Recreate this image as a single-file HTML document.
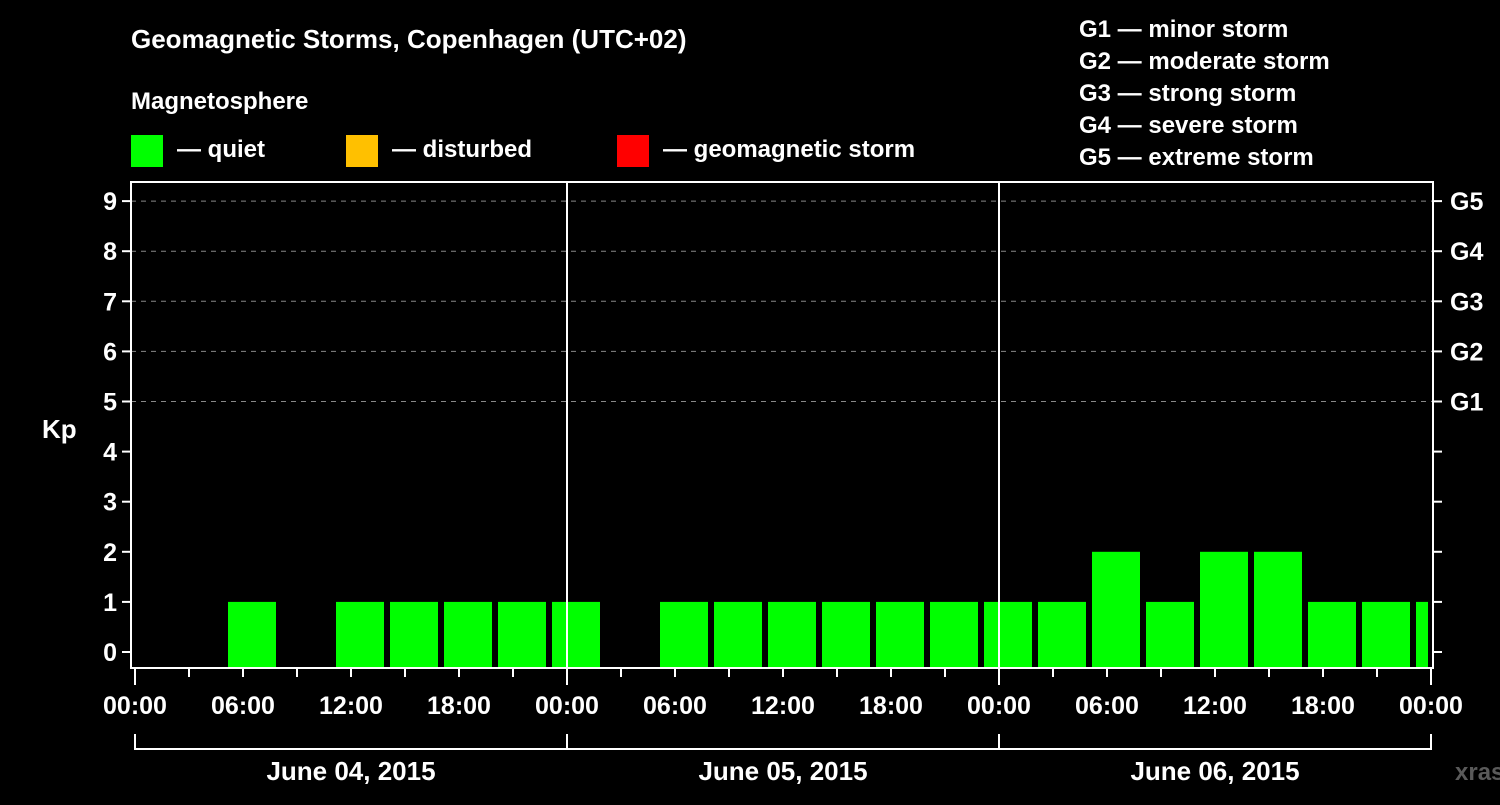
<!DOCTYPE html>
<html><head><meta charset="utf-8"><style>
body{margin:0;background:#000;width:1500px;height:800px;overflow:hidden}
svg text{font-family:"Liberation Sans",Arial,sans-serif;font-weight:bold;fill:#fff}
</style></head><body>
<svg width="1500" height="800">
<text x="131" y="48" font-size="26">Geomagnetic Storms, Copenhagen (UTC+02)</text>
<text x="131" y="109" font-size="24">Magnetosphere</text>
<g>
<rect x="131" y="135" width="32" height="32" fill="#00ff00"/>
<text x="177" y="157" font-size="24">— quiet</text>
<rect x="346" y="135" width="32" height="32" fill="#ffc000"/>
<text x="392" y="157" font-size="24">— disturbed</text>
<rect x="617" y="135" width="32" height="32" fill="#ff0000"/>
<text x="663" y="157" font-size="24">— geomagnetic storm</text>
</g>
<g font-size="24">
<text x="1079" y="37">G1 — minor storm</text>
<text x="1079" y="69">G2 — moderate storm</text>
<text x="1079" y="101">G3 — strong storm</text>
<text x="1079" y="133">G4 — severe storm</text>
<text x="1079" y="165">G5 — extreme storm</text>
</g>
<g id="plot"></g>
<text x="42" y="438" font-size="26">Kp</text>
<text x="1455" y="780" font-size="24" fill="#666" style="fill:#5a5a5a">xras.ru</text>
</svg>
<script>
const kpValues=[0,0,1,0,1,1,1,1,1,0,1,1,1,1,1,1,1,1,2,1,2,2,1,1,1];
const yTicks=[0,1,2,3,4,5,6,7,8,9];
const gLabels=["G1","G2","G3","G4","G5"];
const xLabels=["00:00","06:00","12:00","18:00","00:00","06:00","12:00","18:00","00:00","06:00","12:00","18:00","00:00"];
const dates=["June 04, 2015","June 05, 2015","June 06, 2015"];
const NS="http://www.w3.org/2000/svg";
const g=document.getElementById('plot');
const L=131,R=1433,T=182,B=668;
const y=k=>652-50.1*k;
const slotX=j=>120+54*j;
const hx=i=>135+108*i;
function mk(t,a,txt){const e=document.createElementNS(NS,t);for(const k in a)e.setAttribute(k,a[k]);if(txt!==undefined)e.textContent=txt;g.appendChild(e);return e;}
// grid
for(const k of yTicks){
 if(k>=5){const l=mk('line',{x1:L,x2:R,y1:y(k),y2:y(k),stroke:'#888','stroke-dasharray':'5,5'});
 
 }
 const t=mk('line',{x1:L-9,x2:L,y1:y(k),y2:y(k),stroke:'#fff','stroke-width':2});
 
 
 const t2=mk('line',{x1:R,x2:R+9,y1:y(k),y2:y(k),stroke:'#fff','stroke-width':2});
 
 
 const lb=mk('text',{x:117,y:y(k)+9,'text-anchor':'end','font-size':25},String(k));
 
 
}
gLabels.forEach((s,i)=>{const t=mk('text',{x:1450,y:y(5+i)+9,'font-size':25},s);
 
 });
// bars
kpValues.forEach((v,j)=>{if(v<=0)return;
 const x0=slotX(j),x1=Math.min(x0+48,1428);
 const r=mk('rect',{x:x0,y:y(v),width:x1-x0,height:B-y(v),fill:'#00ff00'});
 
 });
// frame
const f=mk('rect',{x:L,y:T,width:R-L,height:B-T,fill:'none',stroke:'#fff','stroke-width':2});


[1,2].forEach(d=>{const l=mk('line',{x1:135+432*d,x2:135+432*d,y1:T,y2:B,stroke:'#fff','stroke-width':2});
 
 });
// x ticks
for(let i=0;i<=24;i++){const x=135+54*i;const t=mk('line',{x1:x,x2:x,y1:B,y2:i%8==0?685:677,stroke:'#fff','stroke-width':2});
 
 }
xLabels.forEach((s,i)=>{const t=mk('text',{x:hx(i),y:714,'text-anchor':'middle','font-size':25},s);
 
 });
// date brackets
const br=mk('polyline',{points:'135,734 135,749 1431,749 1431,734',fill:'none',stroke:'#fff','stroke-width':2});


[567,999].forEach(x=>{const l=mk('line',{x1:x,x2:x,y1:734,y2:749,stroke:'#fff','stroke-width':2});
 
 });
dates.forEach((s,i)=>{const t=mk('text',{x:351+432*i,y:780,'text-anchor':'middle','font-size':26},s);
 
 });
</script>
</body></html>
